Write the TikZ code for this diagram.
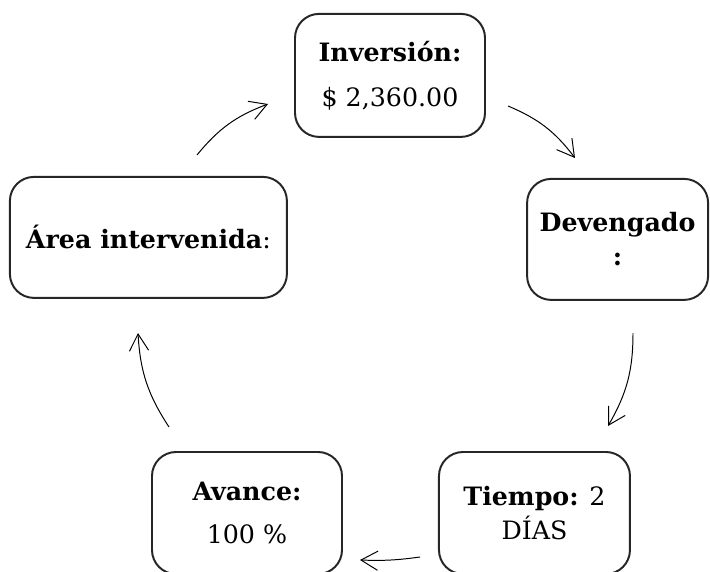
\documentclass[tikz,border=0pt]{standalone}
\usepackage{fontspec}
\setmainfont{DejaVu Serif}
\usepackage{tikz}
\usetikzlibrary{arrows.meta, positioning}

\begin{document}
\begin{tikzpicture}[
    box/.style={rectangle, draw=black!85, line width=1.4pt, rounded corners=0.6cm, minimum width=4.75cm, minimum height=3.05cm, align=center, font=\fontsize{18}{22}\selectfont},
    arrow/.style={-{Straight Barb[length=0.42cm, width=0.48cm]}, line width=0.7pt, bend left=15}
]
    \useasboundingbox (0,0) rectangle (17.75,14.275);

    % Inversion
    \node[box, minimum height=3.075cm] (inv) at (9.75,12.39) {\textbf{Inversión:}\\[0.35cm] \$ 2,360.00};

    % Area and Devengado
    \node[box, minimum width=6.925cm, minimum height=3.025cm] (area) at (3.71,8.34) {\textbf{Área intervenida}:};
    \node[box, minimum width=4.525cm, minimum height=3.025cm] (dev) at (15.44,8.29) {\textbf{Devengado}\\[0.08cm] \textbf{:}};

    % Avance and Tiempo
    \node[box] (av) at (6.175,1.45) {\textbf{Avance:}\\[0.28cm] 100 \%};
    \node[box, right=2.375cm of av, minimum width=4.775cm] (tie) {\textbf{Tiempo:} 2\\[0.08cm] DÍAS};

    % Arrow ends
    \coordinate (a1s) at (4.925,10.4);
    \coordinate (a1e) at (6.7,11.675);
    \coordinate (a2s) at (12.7,11.625);
    \coordinate (a2e) at (14.375,10.325);
    \coordinate (a3s) at (15.825,5.95);
    \coordinate (a3e) at (15.2,3.625);
    \coordinate (a4s) at (10.5,0.35);
    \coordinate (a4e) at (9.0,0.275);
    \coordinate (a5s) at (4.225,3.6);
    \coordinate (a5e) at (3.45,5.95);

    % Arrows
    \draw[arrow] (a1s) to (a1e);
    \draw[arrow] (a2s) to (a2e);
    \draw[arrow] (a3s) to (a3e);
    \draw[arrow, bend left=5] (a4s) to (a4e);
    \draw[arrow] (a5s) to (a5e);
\end{tikzpicture}
\end{document}
